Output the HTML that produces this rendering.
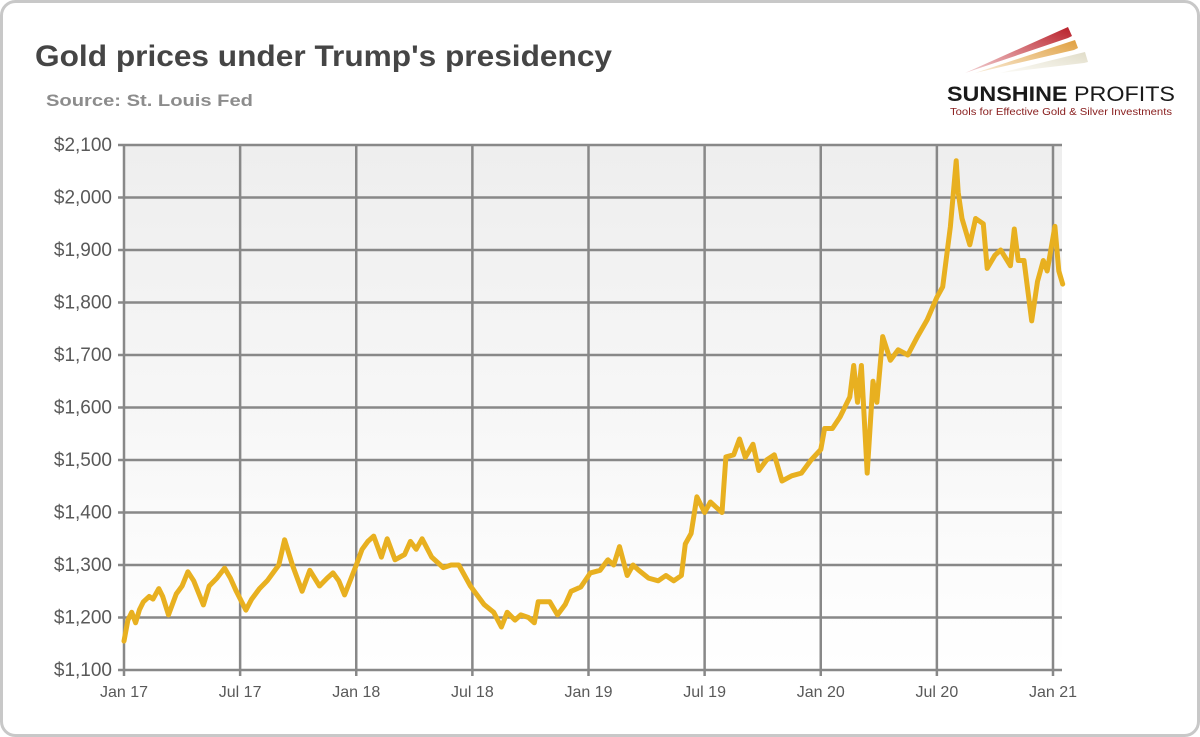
<!DOCTYPE html>
<html><head><meta charset="utf-8"><style>
body{margin:0;background:#fff;}
svg{display:block;font-family:"Liberation Sans",sans-serif;}
</style></head><body>
<svg id="chart" width="1200" height="737" viewBox="0 0 1200 737">
<defs>
<linearGradient id="bg" x1="0" y1="0" x2="0" y2="1"><stop offset="0" stop-color="#eeeeee"/><stop offset="1" stop-color="#ffffff"/></linearGradient>
<linearGradient id="r1" x1="0" y1="1" x2="1" y2="0"><stop offset="0" stop-color="#c0202a" stop-opacity="0.2"/><stop offset="1" stop-color="#b8202a"/></linearGradient>
<linearGradient id="r2" x1="0" y1="1" x2="1" y2="0"><stop offset="0" stop-color="#e0a040" stop-opacity="0.2"/><stop offset="1" stop-color="#e0a040"/></linearGradient>
<linearGradient id="r3" x1="0" y1="1" x2="1" y2="0"><stop offset="0" stop-color="#e8e4d0" stop-opacity="0.2"/><stop offset="1" stop-color="#e0dcc8"/></linearGradient>
</defs>
<rect x="1.5" y="1.5" width="1197" height="734" rx="14" fill="#fff" stroke="#c8c8c8" stroke-width="3"/>
<text x="35" y="66" font-size="30" font-weight="bold" fill="#454545" textLength="577" lengthAdjust="spacingAndGlyphs">Gold prices under Trump's presidency</text>
<text x="46" y="106" font-size="17" font-weight="bold" fill="#8c8c8c" textLength="207" lengthAdjust="spacingAndGlyphs">Source: St. Louis Fed</text>
<g>
<polygon points="965,73 1068,27 1072,36 1068,38" fill="url(#r1)"/>
<polygon points="975,73 1075,40 1078,48 1074,50" fill="url(#r2)"/>
<polygon points="1000,73 1085,52 1088,62 1084,63" fill="url(#r3)"/>
<text x="947" y="101" font-size="21" font-weight="bold" fill="#1a1a1a" textLength="228" lengthAdjust="spacingAndGlyphs">SUNSHINE <tspan font-weight="normal">PROFITS</tspan></text>
<text x="950" y="115" font-size="10" fill="#8a2020" textLength="222" lengthAdjust="spacingAndGlyphs">Tools for Effective Gold &amp; Silver Investments</text>
</g>
<rect x="124" y="145" width="938" height="525" fill="url(#bg)"/>
<g id="grid"></g>
<g id="series"></g>
</svg>
<script>
const yTicks = [1100,1200,1300,1400,1500,1600,1700,1800,1900,2000,2100];
const xTickLabels = ["Jan 17","Jul 17","Jan 18","Jul 18","Jan 19","Jul 19","Jan 20","Jul 20","Jan 21"];
const xTickMonths = [0,6,12,18,24,30,36,42,48];
const months = [0,0.2,0.4,0.6,0.8,1.0,1.3,1.5,1.8,2.0,2.3,2.7,3.0,3.3,3.6,4.1,4.4,4.8,5.2,5.5,5.8,6.3,6.6,7.0,7.4,7.7,8.0,8.3,8.7,9.2,9.6,10.1,10.5,10.8,11.1,11.4,12.0,12.3,12.6,12.9,13.3,13.6,14.0,14.5,14.8,15.1,15.4,15.9,16.5,16.9,17.3,17.9,18.6,19.1,19.5,19.8,20.2,20.5,20.9,21.2,21.4,22.0,22.4,22.8,23.1,23.6,24.1,24.6,25.0,25.3,25.6,26.0,26.3,26.6,27.1,27.6,28.0,28.4,28.8,29.0,29.3,29.6,30.0,30.3,30.6,30.9,31.1,31.5,31.8,32.1,32.5,32.8,33.2,33.6,34.0,34.5,35.0,35.5,36.0,36.2,36.6,37.0,37.5,37.7,37.9,38.1,38.4,38.7,38.9,39.2,39.6,40.0,40.5,41.0,41.5,42.0,42.3,42.7,43.0,43.1,43.3,43.7,44.0,44.4,44.6,45.0,45.3,45.8,46.0,46.2,46.5,46.9,47.2,47.5,47.7,48.1,48.3,48.5];
const prices = [1155,1195,1210,1190,1215,1230,1240,1235,1255,1240,1205,1245,1260,1287,1270,1224,1260,1275,1294,1275,1250,1214,1235,1255,1270,1285,1300,1348,1300,1250,1290,1260,1275,1285,1270,1243,1300,1330,1345,1355,1315,1350,1310,1320,1345,1330,1350,1315,1295,1300,1300,1260,1225,1210,1182,1210,1195,1205,1200,1190,1230,1230,1205,1225,1250,1258,1285,1290,1310,1300,1335,1280,1300,1290,1275,1270,1280,1270,1280,1340,1360,1430,1400,1420,1410,1400,1506,1510,1540,1505,1530,1480,1500,1510,1460,1470,1475,1500,1520,1560,1560,1582,1620,1680,1610,1680,1475,1650,1610,1735,1690,1710,1700,1735,1767,1810,1830,1945,2070,2010,1960,1910,1960,1950,1865,1890,1900,1870,1940,1880,1880,1765,1840,1880,1860,1945,1860,1835];
const X0=124, X1=1053, PT=145, PB=670;
const xs = m => X0 + (X1-X0)*m/48;
const ys = p => PB - (PB-PT)*(p-1100)/1000;
const NS="http://www.w3.org/2000/svg";
const grid=document.getElementById('grid'), ser=document.getElementById('series');
function mk(tag,attrs,parent){const e=document.createElementNS(NS,tag);for(const k in attrs)e.setAttribute(k,attrs[k]);parent.appendChild(e);return e;}
yTicks.forEach(v=>{
  const l=mk('line',{x1:118,x2:1062,y1:ys(v),y2:ys(v),stroke:'#888','stroke-width':2.5},grid);
  
  
  const t=mk('text',{x:112,y:ys(v)+6,'text-anchor':'end','font-size':19,fill:'#595959'},grid);
  t.textContent='$'+v.toLocaleString('en-US');
  
  
});
xTickMonths.forEach((m,i)=>{
  const l=mk('line',{x1:xs(m),x2:xs(m),y1:PT,y2:PB+6,stroke:'#888','stroke-width':2.5},grid);
  
  
  const t=mk('text',{x:xs(m),y:697,'text-anchor':'middle','font-size':16,fill:'#595959'},grid);
  t.textContent=xTickLabels[i];
  
  
});
const d=months.map((m,i)=>(i?'L':'M')+xs(m).toFixed(1)+','+ys(prices[i]).toFixed(1)).join(' ');
const p=mk('path',{d:d,fill:'none',stroke:'#e8b020','stroke-width':5,'stroke-linejoin':'round','stroke-linecap':'round'},ser);


</script>
</body></html>
